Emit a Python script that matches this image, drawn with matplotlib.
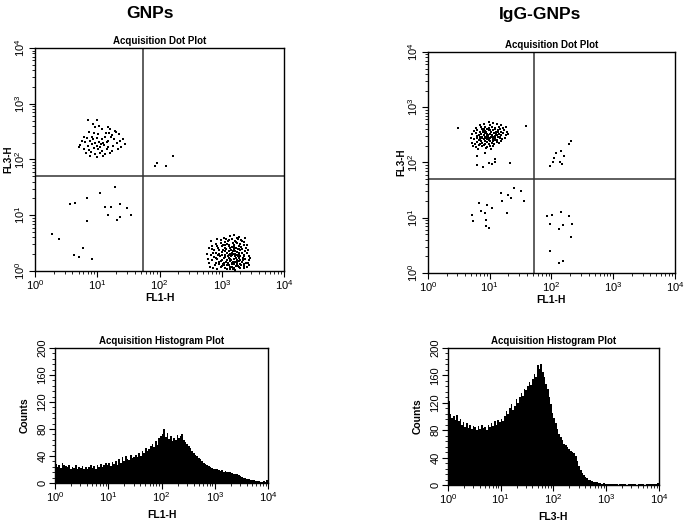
import numpy as np
import matplotlib
matplotlib.use("Agg")
import matplotlib.pyplot as plt
from matplotlib.ticker import FixedLocator, FixedFormatter, LogLocator, MultipleLocator, NullFormatter

plt.rcParams['font.family'] = ['Liberation Sans', 'DejaVu Sans']
plt.rcParams['mathtext.fontset'] = 'custom'
plt.rcParams['mathtext.rm'] = 'Liberation Sans'
plt.rcParams['mathtext.it'] = 'Liberation Sans:italic'
plt.rcParams['mathtext.bf'] = 'Liberation Sans:bold'

# ---- data (log10 units for the dot plots) ----
column_titles = ["GNPs", "IgG-GNPs"]
decade_labels = [r"$\mathregular{10^{%d}}$" % d for d in range(5)]

# GNPs dot plot: FL1-H vs FL3-H
gnp_upper_left = [
    (0.85, 2.70), (0.99, 2.70), (0.93, 2.63), (1.03, 2.60), (0.97, 2.58), (1.07, 2.55), (1.18, 2.58),
    (1.21, 2.55), (1.28, 2.52), (1.14, 2.48), (0.86, 2.50), (0.95, 2.47), (1.02, 2.45), (1.19, 2.47),
    (1.24, 2.44), (1.30, 2.50), (1.35, 2.46), (0.78, 2.40), (0.83, 2.38), (0.91, 2.41), (1.00, 2.39),
    (1.07, 2.37), (1.12, 2.40), (1.22, 2.40), (1.27, 2.36), (1.41, 2.37), (0.75, 2.33), (0.80, 2.31),
    (0.88, 2.33), (0.96, 2.30), (1.03, 2.32), (1.09, 2.29), (1.15, 2.31), (1.31, 2.30), (1.36, 2.33),
    (0.72, 2.26), (0.85, 2.24), (0.92, 2.27), (0.99, 2.25), (1.05, 2.23), (1.11, 2.26), (1.18, 2.22),
    (1.26, 2.25), (1.38, 2.23), (0.79, 2.19), (0.87, 2.17), (0.94, 2.20), (1.01, 2.18), (1.08, 2.16),
    (1.16, 2.19), (1.24, 2.15), (1.33, 2.18), (0.82, 2.11), (0.90, 2.13), (0.97, 2.10), (1.04, 2.12),
    (1.13, 2.09), (1.21, 2.12), (0.88, 2.06), (0.99, 2.05), (1.10, 2.07), (0.70, 2.22), (1.44, 2.28),
    (1.06, 2.28), (0.93, 2.36), (1.17, 2.34),
]
gnp_upper_right = [(1.92, 1.88), (1.96, 1.94), (2.10, 1.88), (2.22, 2.06)]
gnp_lower_left = [
    (1.29, 1.51), (1.04, 1.40), (0.84, 1.31), (0.56, 1.20), (0.64, 1.22), (1.36, 1.20), (1.13, 1.14),
    (1.22, 1.15), (1.47, 1.13), (1.17, 1.00), (1.37, 0.97), (1.54, 1.00), (1.31, 0.92), (0.84, 0.89),
    (0.28, 0.66), (0.38, 0.57), (0.77, 0.41), (0.63, 0.28), (0.70, 0.25), (0.92, 0.22),
]
gnp_lower_right = [
    (2.92, 0.04), (3.05, 0.06), (3.18, 0.03), (3.27, 0.07), (3.35, 0.05), (3.01, 0.09), (3.13, 0.08),
    (3.22, 0.02), (2.86, 0.06), (3.31, 0.10), (3.09, 0.03), (3.40, 0.08), (2.80, 0.14), (2.95, 0.12),
    (3.03, 0.15), (3.11, 0.11), (3.16, 0.14), (3.20, 0.12), (3.25, 0.16), (3.29, 0.13), (3.36, 0.12),
    (3.42, 0.15), (2.89, 0.10), (3.07, 0.17), (3.14, 0.18), (3.23, 0.09), (3.33, 0.17), (2.78, 0.22),
    (2.84, 0.19), (2.93, 0.21), (2.99, 0.18), (3.04, 0.23), (3.08, 0.20), (3.12, 0.24), (3.15, 0.19),
    (3.19, 0.22), (3.21, 0.26), (3.24, 0.20), (3.27, 0.23), (3.30, 0.19), (3.34, 0.24), (3.38, 0.21),
    (3.44, 0.20), (3.10, 0.27), (3.17, 0.28), (3.26, 0.27), (2.97, 0.26), (2.76, 0.31), (2.82, 0.29),
    (2.90, 0.33), (2.96, 0.30), (3.00, 0.34), (3.06, 0.29), (3.09, 0.32), (3.13, 0.30), (3.18, 0.35),
    (3.22, 0.31), (3.25, 0.34), (3.28, 0.30), (3.32, 0.33), (3.36, 0.29), (3.41, 0.32), (3.15, 0.37),
    (3.02, 0.38), (3.20, 0.39), (3.30, 0.38), (2.88, 0.37), (2.79, 0.42), (2.85, 0.45), (2.94, 0.41),
    (3.00, 0.44), (3.05, 0.42), (3.11, 0.46), (3.16, 0.43), (3.19, 0.47), (3.23, 0.42), (3.27, 0.45),
    (3.31, 0.43), (3.35, 0.46), (3.39, 0.42), (3.08, 0.49), (3.25, 0.50), (2.91, 0.48), (2.83, 0.53),
    (2.98, 0.56), (3.06, 0.52), (3.12, 0.55), (3.17, 0.58), (3.21, 0.54), (3.26, 0.57), (3.33, 0.53),
    (3.03, 0.60), (3.14, 0.62), (3.28, 0.61), (2.93, 0.58), (3.19, 0.65), (3.37, 0.59), (3.10, 0.15),
    (3.18, 0.17), (3.24, 0.13), (3.06, 0.25), (3.14, 0.22), (3.23, 0.24), (3.29, 0.26), (3.12, 0.35),
    (3.21, 0.28), (3.33, 0.16), (3.02, 0.13), (3.16, 0.07), (3.26, 0.09), (2.99, 0.07), (3.20, 0.05),
    (3.28, 0.40), (3.07, 0.40), (3.37, 0.36), (3.44, 0.27), (2.87, 0.25), (2.81, 0.08), (2.95, 0.16),
    (3.04, 0.10), (3.13, 0.04), (3.21, 0.16), (3.30, 0.06), (3.39, 0.14), (3.46, 0.24), (2.90, 0.24),
    (3.00, 0.28), (3.11, 0.29), (3.19, 0.31), (3.27, 0.33), (3.35, 0.27), (3.42, 0.38), (2.86, 0.33),
    (2.96, 0.37), (3.05, 0.35), (3.14, 0.41), (3.22, 0.36), (3.32, 0.40), (3.40, 0.46), (2.92, 0.44),
    (3.02, 0.47), (3.10, 0.53), (3.18, 0.50), (3.29, 0.48), (3.36, 0.52), (3.07, 0.58), (3.24, 0.60),
    (2.99, 0.51), (3.15, 0.26), (3.25, 0.29), (3.09, 0.11), (3.17, 0.12), (3.28, 0.18), (3.35, 0.09),
    (3.01, 0.20), (2.91, 0.15), (3.43, 0.11), (3.12, 0.44), (3.20, 0.43), (2.84, 0.40), (3.31, 0.55),
    (3.23, 0.52), (3.06, 0.46), (3.34, 0.20), (2.94, 0.29), (3.16, 0.33), (3.26, 0.39),
]

# IgG-GNPs dot plot: FL1-H vs FL3-H
igg_upper_left = [
    (0.98, 2.73), (1.05, 2.71), (1.12, 2.70), (0.90, 2.69), (1.18, 2.68), (0.84, 2.67), (1.01, 2.67),
    (0.78, 2.63), (0.86, 2.64), (0.93, 2.65), (0.99, 2.62), (1.04, 2.64), (1.09, 2.63), (1.15, 2.65),
    (1.21, 2.62), (1.26, 2.64), (0.96, 2.60), (0.74, 2.57), (0.80, 2.59), (0.85, 2.56), (0.89, 2.58),
    (0.94, 2.55), (0.98, 2.58), (1.02, 2.56), (1.06, 2.59), (1.10, 2.55), (1.14, 2.58), (1.19, 2.56),
    (1.23, 2.59), (1.28, 2.55), (0.91, 2.61), (1.08, 2.61), (0.72, 2.51), (0.77, 2.53), (0.82, 2.49),
    (0.86, 2.52), (0.90, 2.50), (0.93, 2.53), (0.97, 2.49), (1.00, 2.52), (1.04, 2.50), (1.07, 2.53),
    (1.11, 2.49), (1.15, 2.52), (1.18, 2.50), (1.22, 2.53), (1.26, 2.49), (1.30, 2.51), (0.88, 2.47),
    (0.95, 2.48), (1.02, 2.47), (1.09, 2.48), (1.16, 2.47), (0.70, 2.44), (0.75, 2.42), (0.79, 2.45),
    (0.83, 2.41), (0.87, 2.44), (0.91, 2.42), (0.94, 2.45), (0.98, 2.41), (1.01, 2.44), (1.05, 2.42),
    (1.08, 2.45), (1.12, 2.41), (1.16, 2.44), (1.20, 2.42), (1.24, 2.45), (0.85, 2.46), (0.96, 2.43),
    (1.03, 2.46), (1.13, 2.46), (0.92, 2.39), (0.71, 2.36), (0.76, 2.34), (0.80, 2.37), (0.84, 2.33),
    (0.88, 2.36), (0.92, 2.34), (0.95, 2.37), (0.99, 2.33), (1.03, 2.36), (1.07, 2.34), (1.11, 2.37),
    (1.15, 2.35), (1.19, 2.38), (0.86, 2.39), (1.00, 2.39), (0.73, 2.30), (0.78, 2.28), (0.83, 2.31),
    (0.87, 2.29), (0.91, 2.32), (0.96, 2.28), (1.00, 2.30), (1.05, 2.29), (0.81, 2.25), (0.94, 2.26),
    (1.02, 2.24), (0.89, 2.55), (0.95, 2.51), (1.01, 2.59), (1.06, 2.47), (0.84, 2.43), (0.97, 2.46),
    (1.13, 2.56), (0.92, 2.57), (1.10, 2.52), (0.80, 2.48), (1.05, 2.38), (0.99, 2.43), (0.87, 2.60),
    (1.17, 2.61), (0.93, 2.47), (1.08, 2.40),
    (0.48, 2.62), (1.59, 2.66), (0.80, 2.11), (0.93, 2.17), (0.80, 1.95), (0.89, 1.91), (0.99, 1.99),
    (1.03, 1.97), (1.09, 2.00), (1.09, 2.06), (1.33, 1.99),
]
igg_upper_right = [
    (1.98, 1.94), (2.02, 2.00), (2.04, 2.09), (2.07, 2.18), (2.15, 2.20), (2.13, 2.00), (2.17, 1.97),
    (2.21, 2.11), (2.28, 2.33), (2.31, 2.39),
]
igg_lower_left = [
    (1.39, 1.53), (1.51, 1.49), (1.18, 1.44), (1.30, 1.42), (1.34, 1.35), (1.55, 1.31), (1.20, 1.30),
    (0.82, 1.27), (0.96, 1.23), (1.04, 1.18), (0.86, 1.12), (0.92, 1.09), (1.28, 1.08), (0.71, 1.05),
    (0.73, 0.94), (0.94, 0.95), (0.94, 0.85), (0.98, 0.82),
]
igg_lower_right = [
    (1.93, 1.03), (2.01, 1.05), (2.15, 1.10), (2.28, 1.03), (1.98, 0.89), (2.18, 0.87), (2.12, 0.80),
    (2.34, 0.89), (2.32, 0.65), (1.98, 0.39), (2.18, 0.21), (2.12, 0.18),
]

# quadrant gates (linear channel values)
gnp_gate = (54, 50)
igg_gate = (52, 50)

# histograms: 128 channels over 4 decades
gnp_fl1_counts = [
    28, 24, 27, 22, 30, 26, 25, 23, 27, 21, 24, 22, 26, 20, 23, 22,
    25, 21, 24, 20, 23, 26, 22, 25, 21, 27, 24, 28, 23, 26, 30, 27,
    29, 25, 31, 28, 33, 27, 35, 30, 38, 33, 40, 36, 34, 41, 37, 39,
    42, 38, 45, 40, 48, 44, 52, 47, 50, 55, 58, 53, 62, 57, 66, 70,
    72, 80, 68, 74, 65, 70, 62, 67, 64, 71, 66, 69, 72, 63, 60, 58,
    55, 52, 48, 45, 42, 40, 37, 35, 32, 30, 28, 27, 25, 24, 22, 21,
    21, 20, 19, 18, 19, 17, 18, 16, 17, 16, 15, 14, 14, 13, 12, 10,
    9, 8, 7, 6, 6, 5, 4, 4, 3, 3, 3, 2, 2, 3, 2, 4,
]
igg_fl3_counts = [
    122, 104, 98, 100, 95, 102, 93, 97, 88, 92, 85, 90, 83, 88, 82, 86,
    84, 80, 86, 82, 88, 83, 85, 81, 87, 84, 90, 86, 93, 88, 95, 92,
    97, 94, 100, 108, 104, 112, 118, 110, 115, 125, 120, 128, 135, 130, 140, 138,
    145, 150, 146, 155, 162, 158, 175, 170, 176, 165, 158, 148, 140, 128, 118, 105,
    98, 90, 82, 75, 70, 66, 60, 58, 55, 52, 50, 48, 46, 42, 35, 28,
    22, 18, 15, 12, 10, 8, 7, 6, 5, 5, 4, 3, 3, 2, 3, 2,
    2, 1, 2, 1, 1, 2, 1, 0, 1, 1, 2, 1, 0, 1, 1, 2,
    1, 1, 0, 1, 2, 1, 1, 0, 1, 2, 1, 1, 1, 2, 2, 3,
]


def log_axis(axis):
    axis.set_major_locator(FixedLocator([1, 10, 100, 1000, 10000]))
    axis.set_major_formatter(FixedFormatter(decade_labels))
    axis.set_minor_locator(LogLocator(base=10, subs=np.arange(2, 10)))
    axis.set_minor_formatter(NullFormatter())


def style(ax):
    for s in ax.spines.values():
        s.set_linewidth(1.0)
    ax.tick_params(which='major', direction='out', length=4, width=0.8, labelsize=8, pad=1.5)
    ax.tick_params(which='minor', direction='out', length=2.2, width=0.6)
    ax.tick_params(axis='y', labelrotation=90)
    for lab in ax.get_yticklabels():
        lab.set_verticalalignment('center')


def dot_plot(ax, groups, gate, ylab_x):
    for g in groups:
        lx, ly = zip(*g)
        ax.plot(10 ** np.array(lx), 10 ** np.array(ly), 's', ms=1.6, mew=0, color='black')
    ax.axvline(gate[0], color='#333333', lw=1.1)
    ax.axhline(gate[1], color='#333333', lw=1.1)
    ax.set_xscale('log')
    ax.set_yscale('log')
    ax.set_xlim(1, 1e4)
    ax.set_ylim(1, 1e4)
    log_axis(ax.xaxis)
    log_axis(ax.yaxis)
    style(ax)
    ax.set_title("Acquisition Dot Plot", fontsize=7, fontweight='bold', pad=3)
    ax.set_xlabel("FL1-H", fontsize=7.5, fontweight='bold')
    ax.set_ylabel("FL3-H", fontsize=7, fontweight='bold')
    ax.xaxis.set_label_coords(0.5, -0.1)
    ax.yaxis.set_label_coords(ylab_x, 0.5)


def hist_plot(ax, counts, xlab):
    edges = np.logspace(0, 4, len(counts) + 1)
    ax.stairs(counts, edges, fill=True, color='black')
    ax.set_xscale('log')
    ax.set_xlim(1, 1e4)
    ax.set_ylim(0, 200)
    log_axis(ax.xaxis)
    ax.yaxis.set_major_locator(MultipleLocator(40))
    ax.yaxis.set_minor_locator(MultipleLocator(8))
    style(ax)
    ax.set_title("Acquisition Histogram Plot", fontsize=7, fontweight='bold', pad=3)
    ax.set_xlabel(xlab, fontsize=7.5, fontweight='bold')
    ax.set_ylabel("Counts", fontsize=7.5, fontweight='bold')
    ax.xaxis.set_label_coords(0.5, -0.2)
    ax.yaxis.set_label_coords(-0.12, 0.5)


fig = plt.figure(figsize=(6.85, 5.27), dpi=100)

ax1 = fig.add_axes([0.0511, 0.4858, 0.3635, 0.4231])
dot_plot(ax1, [gnp_upper_left, gnp_upper_right, gnp_lower_left, gnp_lower_right], gnp_gate, -0.088)

ax2 = fig.add_axes([0.6248, 0.482, 0.3606, 0.4194])
dot_plot(ax2, [igg_upper_left, igg_upper_right, igg_lower_left, igg_lower_right], igg_gate, -0.088)

ax3 = fig.add_axes([0.0803, 0.0835, 0.311, 0.2562])
hist_plot(ax3, gnp_fl1_counts, "FL1-H")

ax4 = fig.add_axes([0.654, 0.0797, 0.308, 0.26])
hist_plot(ax4, igg_fl3_counts, "FL3-H")

fig.text(0.219, 0.975, column_titles[0], ha='center', va='center', fontsize=12.5, fontweight='bold')
fig.text(0.788, 0.973, column_titles[1], ha='center', va='center', fontsize=12.5, fontweight='bold')

fig.savefig("out.png", dpi=100)
